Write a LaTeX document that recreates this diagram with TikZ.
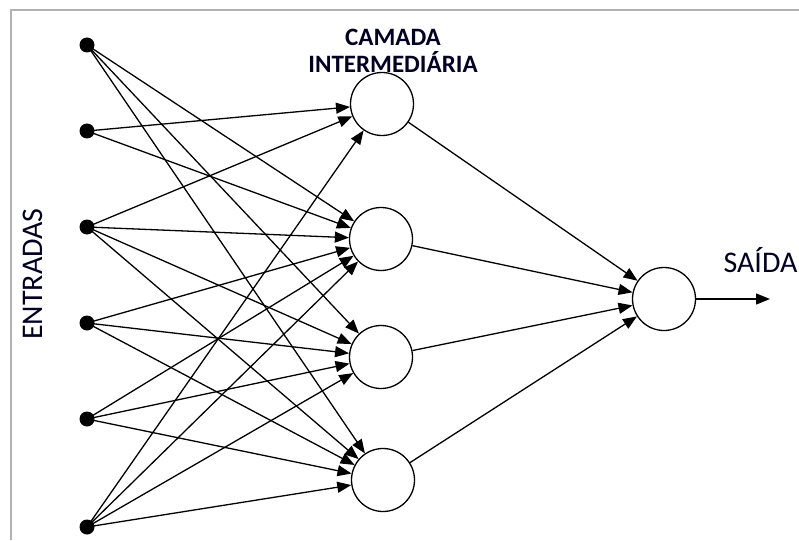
\documentclass[tikz,border=0pt]{standalone}
\usepackage{fontspec}
\setmainfont{Carlito}
\usetikzlibrary{arrows.meta}
\begin{document}
\begin{tikzpicture}[x=1pt,y=-1pt,
  inp/.style={circle,fill=black,inner sep=0pt,minimum size=15pt},
  neuron/.style={circle,draw=black,line width=1.3pt,inner sep=0pt,minimum size=63pt},
  conn/.style={line width=1.3pt,-{Triangle[length=14pt,width=11pt]}},
  lbl/.style={text=black!85!blue}
]
\useasboundingbox (0,0) rectangle (799,540);
% frame
\draw[gray!60,line width=1.6pt] (11,540) -- (11,10) -- (799,10);

% input points
\node[inp] (i1) at (87,45) {};
\node[inp] (i2) at (87,131) {};
\node[inp] (i3) at (87,227) {};
\node[inp] (i4) at (87,323) {};
\node[inp] (i5) at (87,419) {};
\node[inp] (i6) at (87,527) {};

% hidden layer
\node[neuron] (h1) at (382,104) {};
\node[neuron] (h2) at (381,239) {};
\node[neuron] (h3) at (381,357) {};
\node[neuron] (h4) at (383,480) {};

% output neuron
\node[neuron] (o) at (664,299) {};
\coordinate (oend) at (770,299);

% labels
\node[lbl,font=\fontsize{25}{27}\selectfont\bfseries,align=center] (tcam) at (393,51) {CAMADA\\INTERMEDIÁRIA};
\node[lbl,font=\fontsize{30}{32}\selectfont,anchor=west] (tsai) at (720,260) {SAÍDA};
\node[lbl,font=\fontsize{30}{32}\selectfont,rotate=90] (tent) at (33,274) {ENTRADAS};

% input -> hidden connections
\foreach \a/\b in {i1/h2,i1/h3,i1/h4,
                   i2/h1,i2/h2,
                   i3/h1,i3/h2,i3/h3,i3/h4,
                   i4/h2,i4/h3,i4/h4,
                   i5/h2,i5/h3,i5/h4,
                   i6/h1,i6/h2,i6/h3,i6/h4}
  \draw[conn] (\a.center) -- (\b);

% hidden -> output connections
\foreach \h in {h1,h2,h3,h4}
  \draw[conn] (\h) -- (o);
\draw[conn] (o) -- (oend);
\end{tikzpicture}
\end{document}
